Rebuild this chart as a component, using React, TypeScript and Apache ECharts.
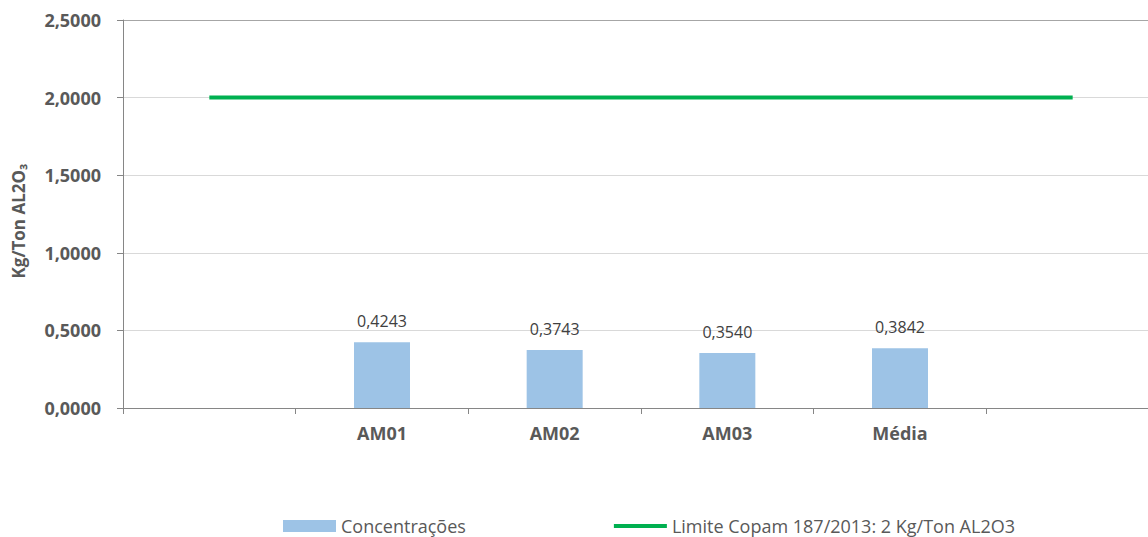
import React, { useEffect, useRef } from "react";
import * as echarts from "echarts";

const categories = ["", "AM01", "AM02", "AM03", "Média", ""];
const concentracoes = [null, 0.4243, 0.3743, 0.354, 0.3842, null];
const limite = [2, 2, 2, 2, 2, 2];
const yMin = 0;
const yMax = 2.5;
const yInterval = 0.5;

const fmt = (v: number) => v.toFixed(4).replace(".", ",");

export default function App() {
  const ref = useRef<HTMLDivElement>(null);
  useEffect(() => {
    document.body.style.margin = "0";
    const chart = echarts.init(ref.current!, null, { renderer: "svg" });
    chart.setOption({
      animation: false,
      backgroundColor: "#ffffff",
      textStyle: { fontFamily: "Open Sans" },
      grid: {
        left: 123,
        right: -11,
        top: 20,
        bottom: 129,
        containLabel: false,
        outerBoundsMode: "none",
      },
      legend: {
        left: 278,
        top: 512,
        itemWidth: 53,
        itemHeight: 12,
        itemGap: 148,
        textStyle: { fontSize: 18, color: "#595959", fontFamily: "Open Sans" },
        data: [
          { name: "Concentrações", icon: "rect" },
          {
            name: "Limite Copam 187/2013: 2 Kg/Ton AL2O3",
            icon: "path://M0,0 L54,0 L54,4 L0,4 Z",
            itemStyle: { color: "#00b050", borderWidth: 0 },
          },
        ],
      },
      xAxis: {
        type: "category",
        data: categories,
        boundaryGap: true,
        axisLine: { lineStyle: { color: "#868686", width: 1 } },
        axisTick: { show: true, length: 6, lineStyle: { color: "#868686" } },
        axisLabel: {
          fontSize: 18,
          fontWeight: "bold",
          color: "#595959",
          margin: 16,
          fontFamily: "Open Sans",
        },
      },
      yAxis: {
        type: "value",
        min: yMin,
        max: yMax,
        interval: yInterval,
        name: "Kg/Ton AL2O₃",
        nameLocation: "middle",
        nameRotate: 90,
        nameGap: 96,
        nameTextStyle: {
          fontSize: 17,
          fontWeight: "bold",
          color: "#595959",
          fontFamily: "Open Sans",
          padding: [0, 14, 0, 0],
        },
        axisLine: { show: true, lineStyle: { color: "#868686", width: 1 } },
        axisTick: { show: true, length: 6, lineStyle: { color: "#868686" } },
        axisLabel: {
          fontSize: 18,
          fontWeight: "bold",
          color: "#595959",
          margin: 22,
          fontFamily: "Open Sans",
          formatter: (v: number) => fmt(v),
        },
        splitLine: {
          lineStyle: {
            color: ["#d9d9d9", "#d9d9d9", "#d9d9d9", "#d9d9d9", "#d9d9d9", "#a6a6a6"],
            width: 1,
          },
        },
      },
      series: [
        {
          name: "Concentrações",
          type: "bar",
          data: concentracoes,
          barWidth: 56,
          itemStyle: { color: "#9dc3e6" },
          label: {
            show: true,
            position: "top",
            distance: 13,
            fontSize: 16,
            color: "#404040",
            fontFamily: "Open Sans",
            formatter: (p: any) => fmt(p.value),
          },
        },
        {
          name: "Limite Copam 187/2013: 2 Kg/Ton AL2O3",
          type: "line",
          data: limite,
          symbol: "none",
          lineStyle: { color: "#00b050", width: 4 },
          itemStyle: { color: "#00b050" },
        },
      ],
    });
    return () => chart.dispose();
  }, []);
  return (
    <div
      ref={ref}
      style={{ position: "absolute", left: 0, top: 0, width: 1148, height: 537 }}
    />
  );
}
